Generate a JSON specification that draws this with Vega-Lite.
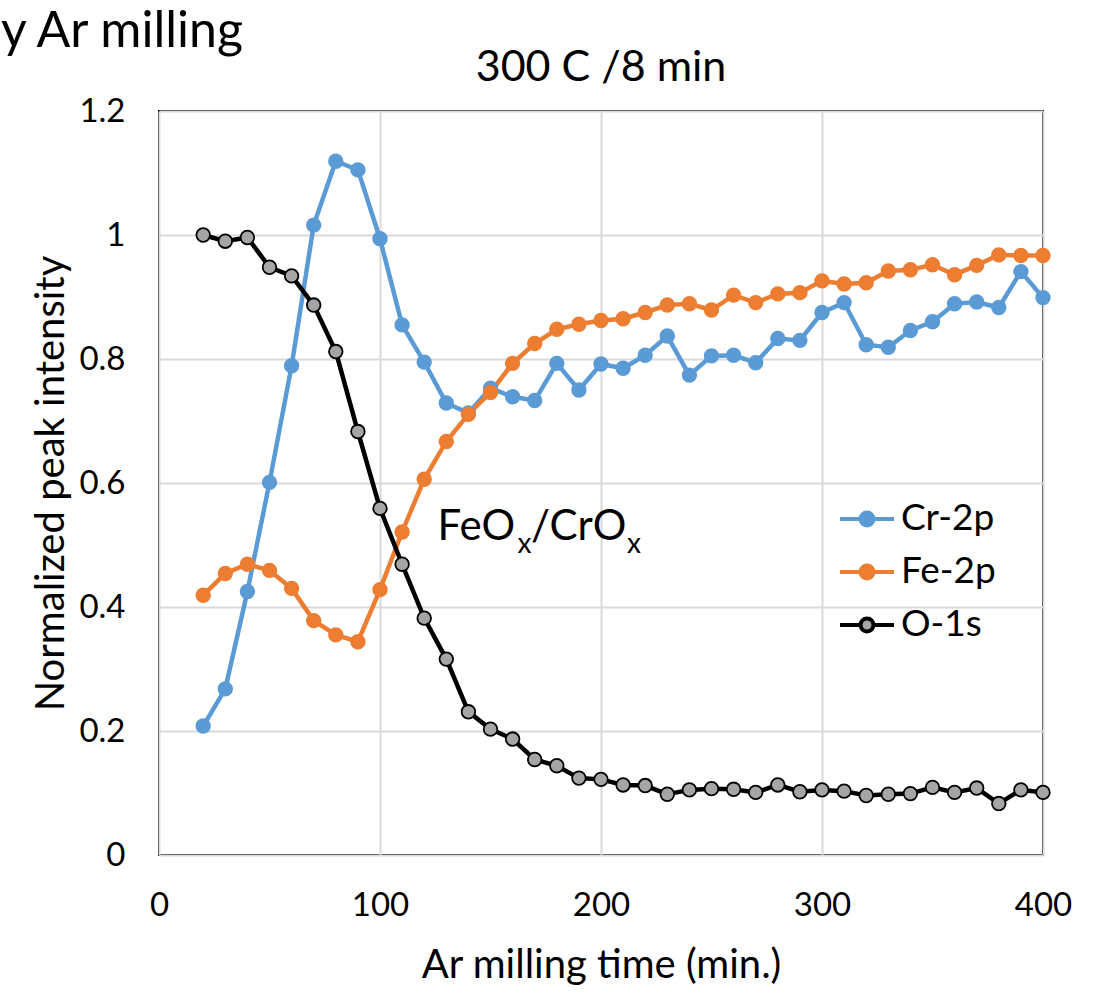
{
  "$schema": "https://vega.github.io/schema/vega-lite/v6.json",
  "background": "white",
  "padding": {"left": 0, "top": 7, "right": 0, "bottom": 0},
  "title": {"text": "y Ar milling", "anchor": "start", "frame": "bounds", "dx": -30, "fontSize": 50, "font": "Lato", "fontWeight": "normal", "color": "black", "offset": -11},
  "config": {
    "font": "Lato",
    "view": {"stroke": "black", "strokeWidth": 2},
    "axis": {"grid": true, "gridColor": "#d9d9d9", "gridWidth": 2, "domain": false, "ticks": false, "tickSize": 0, "labelFontSize": 33, "titleFontSize": 40, "labelColor": "black", "titleColor": "black", "titleFontWeight": "normal", "labelFont": "Lato", "titleFont": "Lato"}
  },
  "datasets": {
    "xps": [
      {"time":20,"series":"Cr-2p","intensity":0.208},{"time":30,"series":"Cr-2p","intensity":0.268},{"time":40,"series":"Cr-2p","intensity":0.425},{"time":50,"series":"Cr-2p","intensity":0.601},{"time":60,"series":"Cr-2p","intensity":0.789},{"time":70,"series":"Cr-2p","intensity":1.016},{"time":80,"series":"Cr-2p","intensity":1.119},{"time":90,"series":"Cr-2p","intensity":1.105},{"time":100,"series":"Cr-2p","intensity":0.994},{"time":110,"series":"Cr-2p","intensity":0.855},{"time":120,"series":"Cr-2p","intensity":0.795},{"time":130,"series":"Cr-2p","intensity":0.729},{"time":140,"series":"Cr-2p","intensity":0.713},{"time":150,"series":"Cr-2p","intensity":0.753},{"time":160,"series":"Cr-2p","intensity":0.739},{"time":170,"series":"Cr-2p","intensity":0.733},{"time":180,"series":"Cr-2p","intensity":0.793},{"time":190,"series":"Cr-2p","intensity":0.750},{"time":200,"series":"Cr-2p","intensity":0.792},{"time":210,"series":"Cr-2p","intensity":0.785},{"time":220,"series":"Cr-2p","intensity":0.806},{"time":230,"series":"Cr-2p","intensity":0.837},{"time":240,"series":"Cr-2p","intensity":0.774},{"time":250,"series":"Cr-2p","intensity":0.805},{"time":260,"series":"Cr-2p","intensity":0.806},{"time":270,"series":"Cr-2p","intensity":0.794},{"time":280,"series":"Cr-2p","intensity":0.833},{"time":290,"series":"Cr-2p","intensity":0.830},{"time":300,"series":"Cr-2p","intensity":0.875},{"time":310,"series":"Cr-2p","intensity":0.891},{"time":320,"series":"Cr-2p","intensity":0.823},{"time":330,"series":"Cr-2p","intensity":0.819},{"time":340,"series":"Cr-2p","intensity":0.846},{"time":350,"series":"Cr-2p","intensity":0.860},{"time":360,"series":"Cr-2p","intensity":0.889},{"time":370,"series":"Cr-2p","intensity":0.892},{"time":380,"series":"Cr-2p","intensity":0.883},{"time":390,"series":"Cr-2p","intensity":0.941},{"time":400,"series":"Cr-2p","intensity":0.899},
      {"time":20,"series":"Fe-2p","intensity":0.419},{"time":30,"series":"Fe-2p","intensity":0.454},{"time":40,"series":"Fe-2p","intensity":0.469},{"time":50,"series":"Fe-2p","intensity":0.459},{"time":60,"series":"Fe-2p","intensity":0.430},{"time":70,"series":"Fe-2p","intensity":0.378},{"time":80,"series":"Fe-2p","intensity":0.355},{"time":90,"series":"Fe-2p","intensity":0.344},{"time":100,"series":"Fe-2p","intensity":0.428},{"time":110,"series":"Fe-2p","intensity":0.521},{"time":120,"series":"Fe-2p","intensity":0.606},{"time":130,"series":"Fe-2p","intensity":0.667},{"time":140,"series":"Fe-2p","intensity":0.711},{"time":150,"series":"Fe-2p","intensity":0.746},{"time":160,"series":"Fe-2p","intensity":0.793},{"time":170,"series":"Fe-2p","intensity":0.825},{"time":180,"series":"Fe-2p","intensity":0.848},{"time":190,"series":"Fe-2p","intensity":0.856},{"time":200,"series":"Fe-2p","intensity":0.862},{"time":210,"series":"Fe-2p","intensity":0.865},{"time":220,"series":"Fe-2p","intensity":0.875},{"time":230,"series":"Fe-2p","intensity":0.887},{"time":240,"series":"Fe-2p","intensity":0.889},{"time":250,"series":"Fe-2p","intensity":0.879},{"time":260,"series":"Fe-2p","intensity":0.903},{"time":270,"series":"Fe-2p","intensity":0.891},{"time":280,"series":"Fe-2p","intensity":0.905},{"time":290,"series":"Fe-2p","intensity":0.907},{"time":300,"series":"Fe-2p","intensity":0.926},{"time":310,"series":"Fe-2p","intensity":0.921},{"time":320,"series":"Fe-2p","intensity":0.923},{"time":330,"series":"Fe-2p","intensity":0.942},{"time":340,"series":"Fe-2p","intensity":0.944},{"time":350,"series":"Fe-2p","intensity":0.952},{"time":360,"series":"Fe-2p","intensity":0.936},{"time":370,"series":"Fe-2p","intensity":0.951},{"time":380,"series":"Fe-2p","intensity":0.968},{"time":390,"series":"Fe-2p","intensity":0.967},{"time":400,"series":"Fe-2p","intensity":0.967},
      {"time":20,"series":"O-1s","intensity":1.000},{"time":30,"series":"O-1s","intensity":0.990},{"time":40,"series":"O-1s","intensity":0.996},{"time":50,"series":"O-1s","intensity":0.948},{"time":60,"series":"O-1s","intensity":0.934},{"time":70,"series":"O-1s","intensity":0.887},{"time":80,"series":"O-1s","intensity":0.812},{"time":90,"series":"O-1s","intensity":0.683},{"time":100,"series":"O-1s","intensity":0.559},{"time":110,"series":"O-1s","intensity":0.469},{"time":120,"series":"O-1s","intensity":0.382},{"time":130,"series":"O-1s","intensity":0.316},{"time":140,"series":"O-1s","intensity":0.231},{"time":150,"series":"O-1s","intensity":0.203},{"time":160,"series":"O-1s","intensity":0.187},{"time":170,"series":"O-1s","intensity":0.154},{"time":180,"series":"O-1s","intensity":0.144},{"time":190,"series":"O-1s","intensity":0.124},{"time":200,"series":"O-1s","intensity":0.122},{"time":210,"series":"O-1s","intensity":0.113},{"time":220,"series":"O-1s","intensity":0.112},{"time":230,"series":"O-1s","intensity":0.098},{"time":240,"series":"O-1s","intensity":0.105},{"time":250,"series":"O-1s","intensity":0.107},{"time":260,"series":"O-1s","intensity":0.106},{"time":270,"series":"O-1s","intensity":0.101},{"time":280,"series":"O-1s","intensity":0.113},{"time":290,"series":"O-1s","intensity":0.102},{"time":300,"series":"O-1s","intensity":0.105},{"time":310,"series":"O-1s","intensity":0.103},{"time":320,"series":"O-1s","intensity":0.096},{"time":330,"series":"O-1s","intensity":0.098},{"time":340,"series":"O-1s","intensity":0.099},{"time":350,"series":"O-1s","intensity":0.109},{"time":360,"series":"O-1s","intensity":0.101},{"time":370,"series":"O-1s","intensity":0.108},{"time":380,"series":"O-1s","intensity":0.083},{"time":390,"series":"O-1s","intensity":0.105},{"time":400,"series":"O-1s","intensity":0.101}
    ]
  },
  "vconcat": [
    {
      "width": 884,
      "height": 744,
      "title": {"text": "300 C /8 min", "fontSize": 43, "fontWeight": "normal", "color": "black", "font": "Lato", "frame": "group", "offset": 5},
      "layer": [
        {
          "data": {"name": "xps"},
          "mark": {"type": "line", "strokeWidth": 4.5},
          "encoding": {
            "x": {"field": "time", "type": "quantitative", "scale": {"domain": [0, 400]}, "axis": {"values": [0, 100, 200, 300, 400], "title": "Ar milling time (min.)", "labelPadding": 34, "titlePadding": 23, "labelFlush": false}},
            "y": {"field": "intensity", "type": "quantitative", "scale": {"domain": [0, 1.2]}, "axis": {"values": [0, 0.2, 0.4, 0.6, 0.8, 1, 1.2], "format": "~g", "title": "Normalized peak intensity", "labelPadding": 34, "titlePadding": 7}},
            "stroke": {"field": "series", "type": "nominal", "scale": {"domain": ["Cr-2p", "Fe-2p", "O-1s"], "range": ["#5B9BD5", "#ED7D31", "#000000"]},
              "legend": {"orient": "none", "legendX": 679, "legendY": 379, "title": null, "symbolType": "M-1,0H-0.24A0.24,0.24,0,0,1,0.24,0H1M0.24,0A0.24,0.24,0,0,1,-0.24,0", "symbolSize": 2916, "symbolStrokeWidth": 4, "labelFontSize": 37, "labelFont": "Lato", "labelColor": "black", "labelOffset": 5, "rowPadding": 6, "padding": 0}}
          }
        },
        {
          "data": {"name": "xps"},
          "mark": {"type": "point", "filled": true, "strokeWidth": 1.8, "opacity": 1, "size": 185},
          "encoding": {
            "x": {"field": "time", "type": "quantitative"},
            "y": {"field": "intensity", "type": "quantitative"},
            "fill": {"field": "series", "type": "nominal", "scale": {"domain": ["Cr-2p", "Fe-2p", "O-1s"], "range": ["#5B9BD5", "#ED7D31", "#A5A5A5"]},
              "legend": {"orient": "none", "legendX": 679, "legendY": 379, "title": null, "symbolType": "M-1,0H-0.24A0.24,0.24,0,0,1,0.24,0H1M0.24,0A0.24,0.24,0,0,1,-0.24,0", "symbolSize": 2916, "symbolStrokeWidth": 4, "labelFontSize": 37, "labelFont": "Lato", "labelColor": "black", "labelOffset": 5, "rowPadding": 6, "padding": 0}},
            "stroke": {"field": "series", "type": "nominal"}
          }
        },
        {
          "data": {"values": [{}]},
          "mark": {"type": "text", "text": "FeO", "align": "left", "baseline": "alphabetic", "fontSize": 42, "font": "Lato", "color": "black"},
          "encoding": {"x": {"datum": 126, "type": "quantitative"}, "y": {"datum": 0.508, "type": "quantitative"}}
        },
        {
          "data": {"values": [{}]},
          "mark": {"type": "text", "text": "x", "align": "left", "baseline": "alphabetic", "fontSize": 28, "font": "Lato", "color": "black"},
          "encoding": {"x": {"datum": 162.2, "type": "quantitative"}, "y": {"datum": 0.487, "type": "quantitative"}}
        },
        {
          "data": {"values": [{}]},
          "mark": {"type": "text", "text": "/CrO", "align": "left", "baseline": "alphabetic", "fontSize": 42, "font": "Lato", "color": "black"},
          "encoding": {"x": {"datum": 168.3, "type": "quantitative"}, "y": {"datum": 0.508, "type": "quantitative"}}
        },
        {
          "data": {"values": [{}]},
          "mark": {"type": "text", "text": "x", "align": "left", "baseline": "alphabetic", "fontSize": 28, "font": "Lato", "color": "black"},
          "encoding": {"x": {"datum": 211.8, "type": "quantitative"}, "y": {"datum": 0.487, "type": "quantitative"}}
        }
      ]
    }
  ]
}
